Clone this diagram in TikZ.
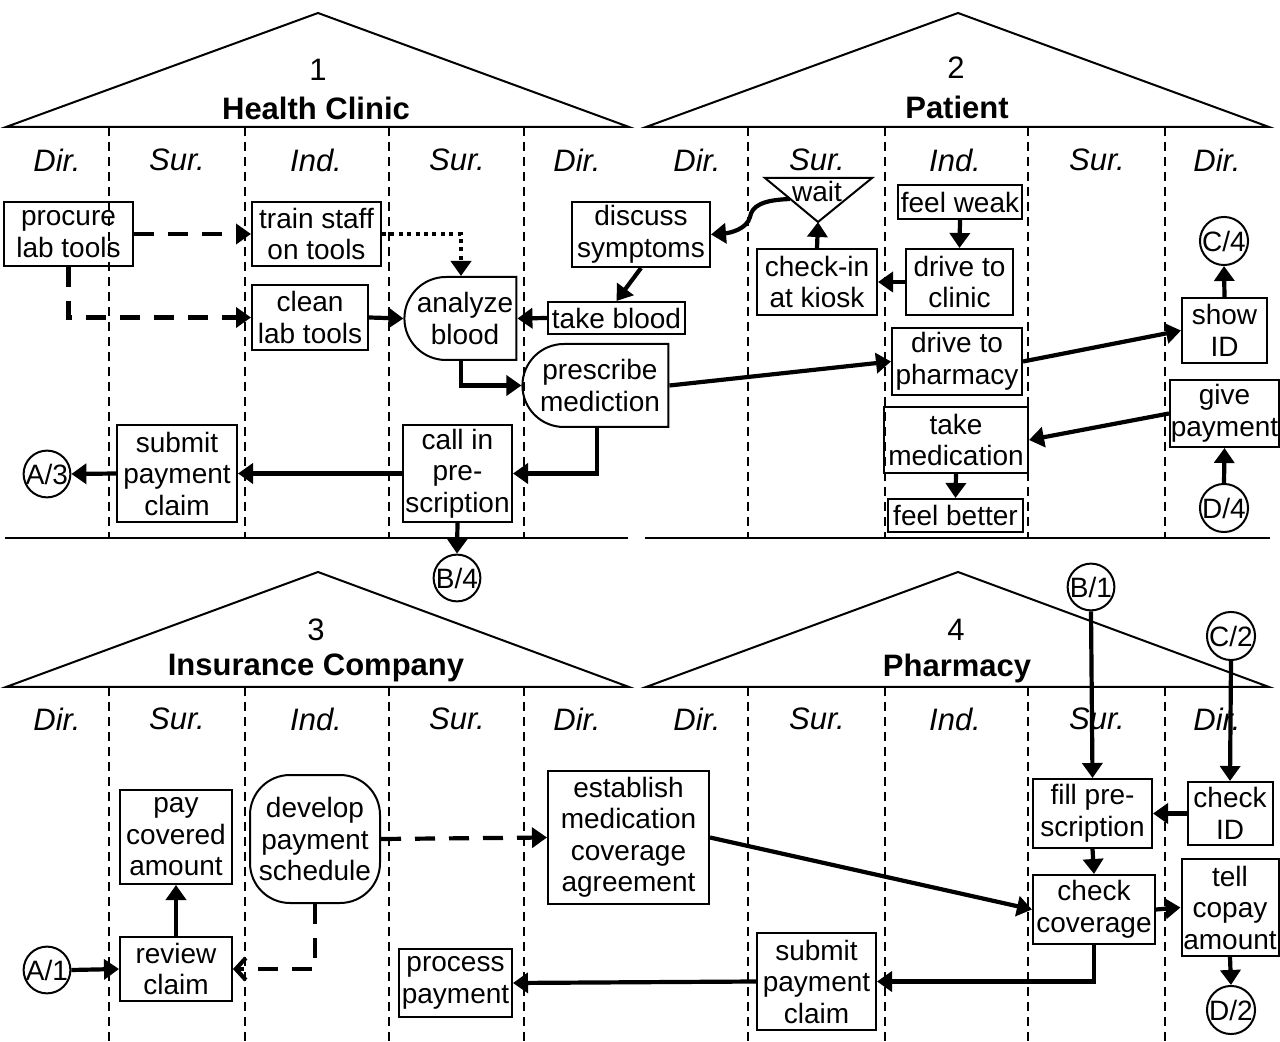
\documentclass[tikz,border=0pt]{standalone}
\usepackage{fontspec}
\setmainfont{Liberation Sans}
\usetikzlibrary{arrows.meta,shapes.misc}

\begin{document}
\begin{tikzpicture}[x=0.5pt,y=-0.5pt,
  every node/.style={font=\fontsize{14}{15.75}\selectfont},
  box/.style={draw,line width=1pt,inner sep=0pt,align=center},
  half/.style={box,rounded rectangle,rounded rectangle right arc=none},
  hdr/.style={font=\fontsize{15.5}{17}\selectfont\itshape},
  ttl/.style={font=\fontsize{15.5}{17}\selectfont\bfseries},
  num/.style={font=\fontsize{15.5}{17}\selectfont},
  conn/.style={draw,circle,line width=1pt,inner sep=0pt,minimum size=23pt},
  lane/.style={line width=1pt,dash pattern=on 4.5pt off 3pt},
  roof/.style={line width=1pt,line join=miter},
  flow/.style={line width=2.1pt,-{Triangle[length=7.5pt,width=10pt]}},
  dflow/.style={flow,dash pattern=on 10pt off 7pt},
  oflow/.style={line width=2.1pt,dash pattern=on 10pt off 7pt,-{Straight Barb[length=5pt,width=11pt]}},
  tflow/.style={flow,dash pattern=on 2pt off 2.2pt}
]
\useasboundingbox (0,0) rectangle (1280,1042);

% ---- swimlane dividers ----
\foreach \x in {109,245,389,524,748,885,1028,1165}{
  \draw[lane] (\x,127) -- (\x,538);
  \draw[lane] (\x,687) -- (\x,1042);
}

% ---- roofs and separators ----
\draw[roof] (6,127) -- (318,13) -- (629,127) -- cycle;
\draw[roof] (646,127) -- (958,13) -- (1269,127) -- cycle;
\draw[roof] (6,687) -- (318,572) -- (629,687) -- cycle;
\draw[roof] (646,687) -- (958,572) -- (1269,687) -- cycle;
\draw[line width=1.2pt] (5,538) -- (628,538);
\draw[line width=1.2pt] (645,538) -- (1270,538);

\node[num] (n1) at (318,70) {1};
\node[ttl] (t1) at (316,108) {Health Clinic};
\node[num] (n2) at (956,68) {2};
\node[ttl] (t2) at (957,107) {Patient};
\node[num] (n3) at (316,630) {3};
\node[ttl] (t3) at (316,668) {Insurance Company};
\node[num] (n4) at (956,630) {4};
\node[ttl] (t4) at (957,668) {Pharmacy};

% ---- lane headers ----
\foreach \x/\t [count=\i] in {57/Dir.,177/Sur.,316/Ind.,457/Sur.,577/Dir.,697/Dir.,817/Sur.,955/Ind.,1097/Sur.,1217/Dir.}{
  \node[hdr] (ha\i) at (\x,160) {\t};
  \node[hdr] (hb\i) at (\x,719) {\t};
}

% ---- 1: Health Clinic ----
\node[box,minimum width=64.5pt,minimum height=32pt] (procure) at (68.5,234) {procure\\lab tools};
\node[box,minimum width=64.5pt,minimum height=32pt] (train) at (316.5,234) {train staff\\on tools};
\node[box,minimum width=58pt,minimum height=32.5pt] (clean) at (310,317.5) {clean\\lab tools};
\node[half,minimum width=56pt,minimum height=41.5pt] (analyze) at (465,318.5) {analyze\\blood};
\node[box,minimum width=68.5pt,minimum height=16pt] (takeblood) at (616.5,318) {take blood};
\node[box,minimum width=69pt,minimum height=32.5pt] (discuss) at (641,234.5) {discuss\\symptoms};
\node[half,minimum width=73pt,minimum height=41.5pt] (prescribe) at (600,385.5) {prescribe\\mediction};
\node[box,minimum width=54.5pt,minimum height=48.5pt] (callin) at (457.5,473.5) {call in\\pre-\\scription};
\node[box,minimum width=60pt,minimum height=48.5pt] (submitA) at (177,473.5) {submit\\payment\\claim};
\node[conn] (A3) at (47,474) {A/3};
\node[conn] (B4) at (457,578) {B/4};

% ---- 2: Patient ----
\node[box,minimum width=62pt,minimum height=17pt] (weak) at (960,202) {feel weak};
\node[box,minimum width=53.5pt,minimum height=33pt] (driveclinic) at (959.5,282) {drive to\\clinic};
\node[box,minimum width=60pt,minimum height=33pt] (checkin) at (817,282) {check-in\\at kiosk};
\node[box,minimum width=65pt,minimum height=33.5pt] (drivepharm) at (957,361.5) {drive to\\pharmacy};
\node[box,minimum width=72pt,minimum height=33pt] (takemed) at (956,440) {take\\medication};
\node[box,minimum width=67.5pt,minimum height=16.5pt] (better) at (955.5,515.5) {feel better};
\node[box,minimum width=42.5pt,minimum height=32.5pt] (showid) at (1224.5,330.5) {show\\ID};
\node[box,minimum width=54.5pt,minimum height=33.5pt] (givepay) at (1224.5,413.5) {give\\payment};
\node[conn] (C4) at (1224,241) {C/4};
\node[conn] (D4) at (1224,508) {D/4};
\coordinate (waitTL) at (765,178);
\coordinate (waitTR) at (872,178);
\coordinate (waitB) at (818,222);
\coordinate (waitS) at (790,199);
\draw[line width=1pt] (waitTL) -- (waitTR) -- (waitB) -- cycle;
\node[inner sep=0pt] (wait) at (817,191) {wait};

% ---- 3: Insurance Company ----
\node[box,minimum width=56pt,minimum height=47pt] (paycov) at (176,837) {pay\\covered\\amount};
\node[box,minimum width=56pt,minimum height=32pt] (review) at (176,969) {review\\claim};
\node[box,rounded corners=20pt,minimum width=65pt,minimum height=64pt] (develop) at (315,839) {develop\\payment\\schedule};
\node[box,minimum width=80.5pt,minimum height=66.5pt] (establish) at (628.5,837.5) {establish\\medication\\coverage\\agreement};
\node[box,minimum width=56.5pt,minimum height=34pt] (process) at (455.5,983) {process\\payment};
\node[conn] (A1) at (47,970) {A/1};

% ---- 4: Pharmacy ----
\node[box,minimum width=59.5pt,minimum height=34.5pt] (fill) at (1092.5,813.5) {fill pre-\\scription};
\node[box,minimum width=42.5pt,minimum height=31.5pt] (checkid) at (1230,813.5) {check\\ID};
\node[box,minimum width=61pt,minimum height=34.5pt] (checkcov) at (1094,909.5) {check\\coverage};
\node[box,minimum width=48.5pt,minimum height=48.5pt] (tell) at (1230,907.5) {tell\\copay\\amount};
\node[box,minimum width=59.5pt,minimum height=48.5pt] (submitB) at (816.5,981.5) {submit\\payment\\claim};
\node[conn] (B1) at (1091,587) {B/1};
\node[conn] (C2) at (1231,636) {C/2};
\node[conn] (D2) at (1231,1010) {D/2};

% ---- connectors: Health Clinic ----
\draw[dflow] (procure.east) -- (train.west);
\draw[dflow] (procure.south) |- (clean.west);
\draw[tflow] (train.east) -| ([xshift=-2pt]analyze.north);
\draw[flow] (clean.east) -- (analyze.west);
\draw[flow] (takeblood.west) -- (analyze.east);
\draw[flow] (discuss.south) -- (takeblood.north);
\draw[flow] ([xshift=-2pt]analyze.south) |- (prescribe.west);
\draw[flow] ([xshift=-1.5pt]prescribe.south) |- (callin.east);
\draw[flow] (callin.west) -- (submitA.east);
\draw[flow] (submitA.west) -- (A3.east);
\draw[flow] (callin.south) -- (B4.north);
\draw[flow] (prescribe.east) -- (drivepharm.west);

% ---- connectors: Patient ----
\draw[flow] (weak.south) -- (driveclinic.north);
\draw[flow] (driveclinic.west) -- (checkin.east);
\draw[flow] (checkin.north) -- (waitB);
\draw[flow] (waitS) .. controls (762,200) and (752,206) .. (750,217)
                    .. controls (747,229) and (730,233) .. (discuss.east);
\draw[flow] (drivepharm.east) -- (showid.west);
\draw[flow] (givepay.west) -- (takemed.east);
\draw[flow] (takemed.south) -- (better.north);
\draw[flow] (showid.north) -- (C4.south);
\draw[flow] (D4.north) -- (givepay.south);

% ---- connectors: Insurance Company and Pharmacy ----
\draw[flow] (A1.east) -- (review.west);
\draw[flow] (review.north) -- (paycov.south);
\draw[oflow] (develop.south) |- (review.east);
\draw[dflow] (develop.east) -- (establish.west);
\draw[flow] (establish.east) -- (checkcov.west);
\draw[flow] (B1.south) -- (fill.north);
\draw[flow] (C2.south) -- (checkid.north);
\draw[flow] (checkid.west) -- (fill.east);
\draw[flow] (fill.south) -- (checkcov.north);
\draw[flow] (checkcov.east) -- (tell.west);
\draw[flow] (tell.south) -- (D2.north);
\draw[flow] (checkcov.south) |- (submitB.east);
\draw[flow] (submitB.west) -- (process.east);
\end{tikzpicture}
\end{document}
